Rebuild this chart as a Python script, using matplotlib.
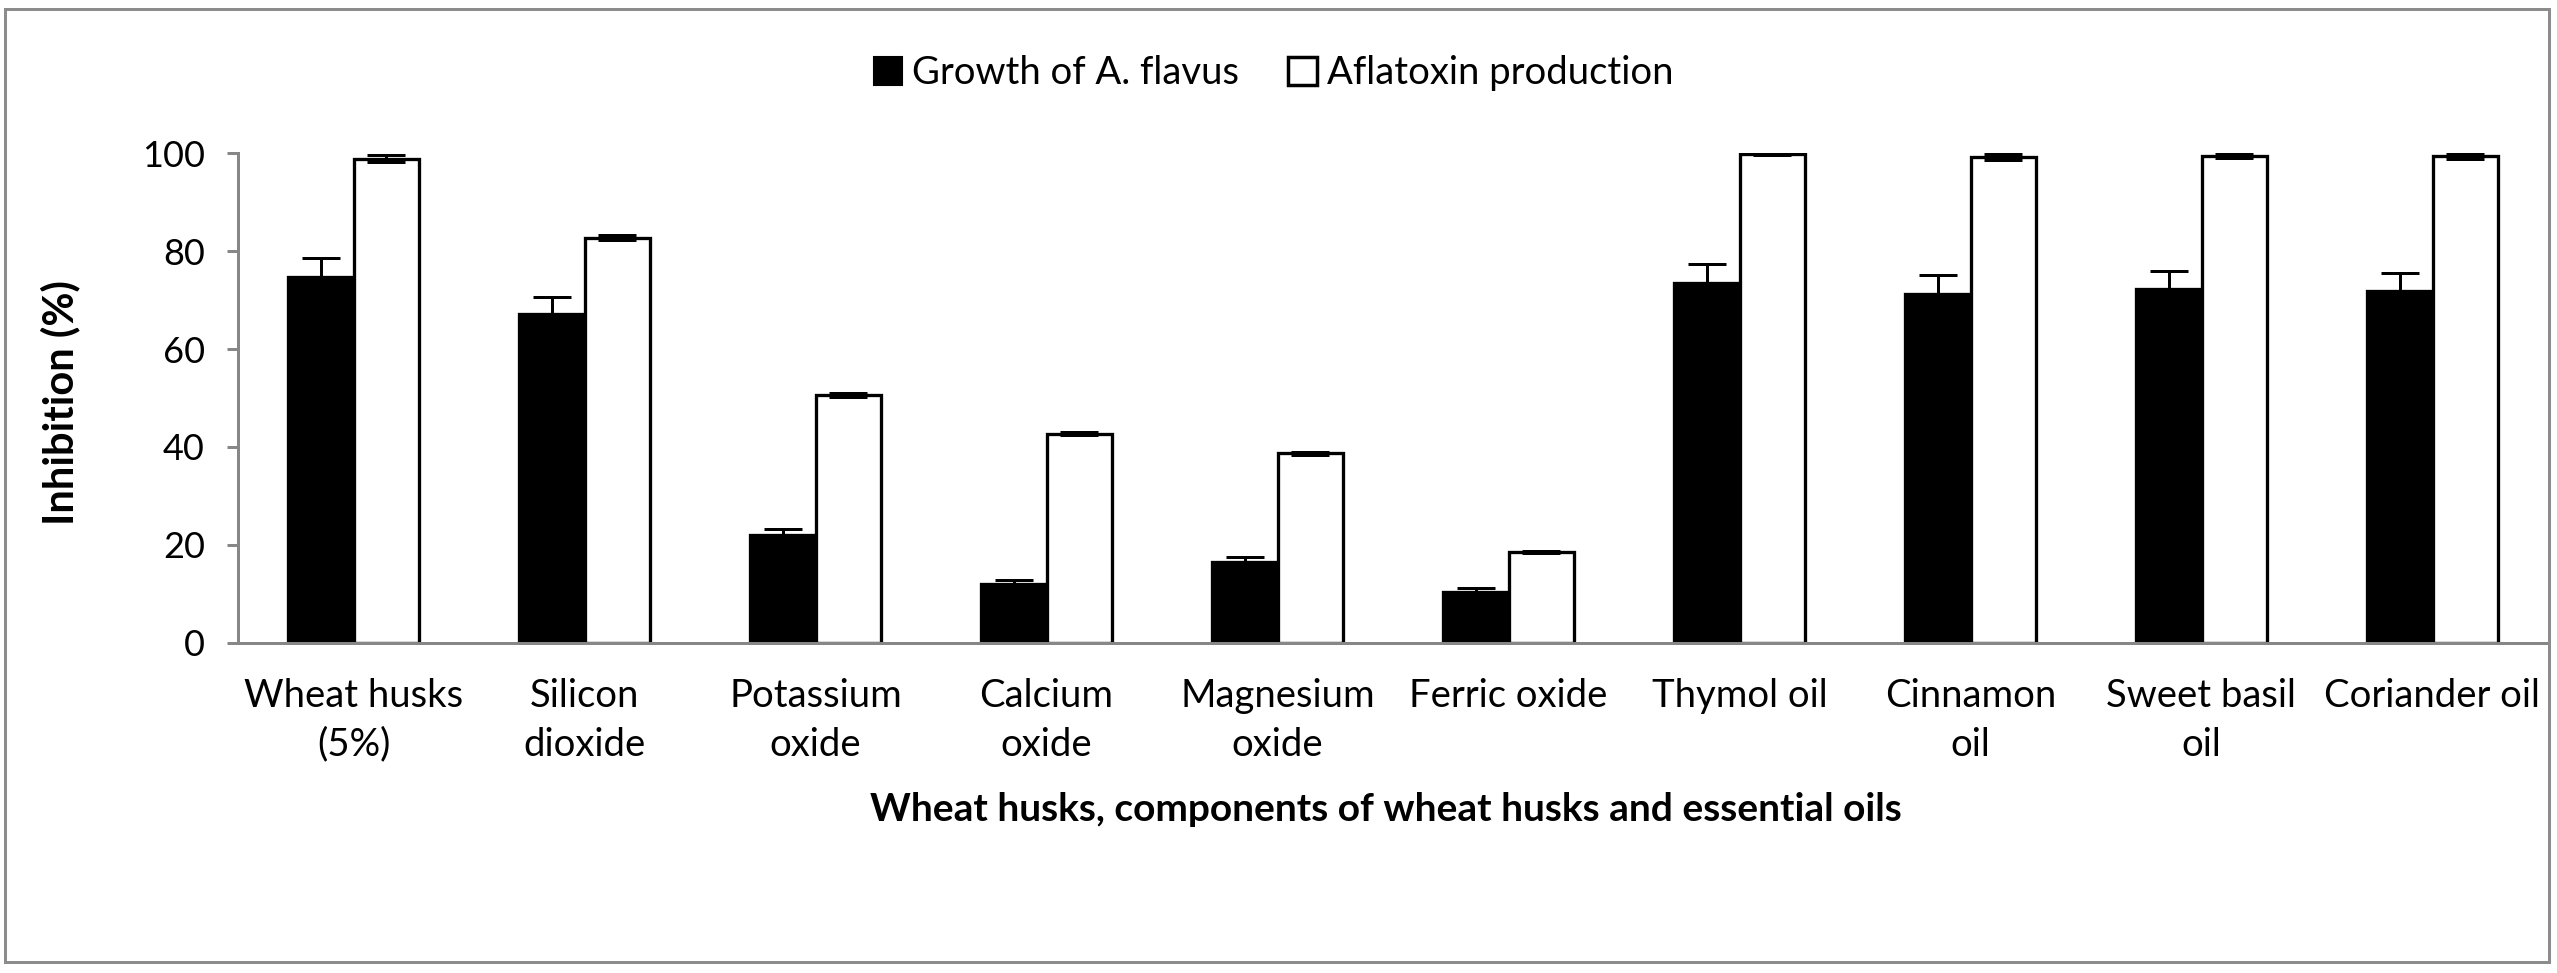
import matplotlib
matplotlib.use("Agg")
import matplotlib.pyplot as plt
import numpy as np
from matplotlib.patches import Patch, Rectangle

plt.rcParams['font.family'] = ['Lato', 'DejaVu Sans']

# data
categories = ["Wheat husks\n(5%)", "Silicon\ndioxide", "Potassium\noxide", "Calcium\noxide",
              "Magnesium\noxide", "Ferric oxide", "Thymol oil", "Cinnamon\noil",
              "Sweet basil\noil", "Coriander oil"]
growth = [74.7, 67.2, 22.0, 12.0, 16.6, 10.5, 73.5, 71.3, 72.2, 71.9]
growth_err = [3.9, 3.4, 1.3, 0.8, 1.0, 0.8, 3.8, 3.9, 3.8, 3.7]
aflatoxin = [98.8, 82.7, 50.6, 42.7, 38.7, 18.6, 99.8, 99.2, 99.3, 99.3]
aflatoxin_err = [0.7, 0.5, 0.4, 0.3, 0.3, 0.2, 0.3, 0.6, 0.4, 0.6]
series_names = ["Growth of A. flavus", "Aflatoxin production"]

W, H = 2557, 973
fig = plt.figure(figsize=(W / 100, H / 100), dpi=100)
ax = fig.add_axes([238 / W, (H - 643) / H, 2310 / W, 490 / H])

grey = '#878787'
x = np.arange(len(categories))
bw = 0.282
lw_px = 0.72  # points per pixel at 100 dpi

ax.bar(x - bw / 2, growth, bw, color='black', edgecolor='black', linewidth=2.3 * lw_px, zorder=2)
ax.bar(x + bw / 2, aflatoxin, bw, color='white', edgecolor='black', linewidth=3.3 * lw_px, zorder=2)

ekw = dict(fmt='none', ecolor='black', elinewidth=3 * lw_px, capsize=19 * lw_px,
           capthick=3 * lw_px, zorder=3)
ax.errorbar(x - bw / 2, growth, yerr=[np.zeros(len(growth)), growth_err], **ekw)
ax.errorbar(x + bw / 2, aflatoxin, yerr=aflatoxin_err, **ekw)

ax.set_xlim(-0.5, len(categories) - 0.5)
ax.set_ylim(0, 100)
ax.set_yticks([0, 20, 40, 60, 80, 100])
ax.set_xticks(x)
ax.set_xticklabels(categories, fontsize=27.5, linespacing=1.45)
ax.tick_params(axis='x', length=0, pad=25)
ax.tick_params(axis='y', direction='out', length=11 * lw_px, width=3 * lw_px, color=grey,
               labelsize=26, pad=16)

for s in ['top', 'right']:
    ax.spines[s].set_visible(False)
for s in ['left', 'bottom']:
    ax.spines[s].set_color(grey)
    ax.spines[s].set_linewidth(3 * lw_px)
ax.spines['left'].set_zorder(1)

ax.set_xlabel("Wheat husks, components of wheat husks and essential oils",
              fontsize=28, fontweight='bold', va='center')
ax.xaxis.set_label_coords(0.497, -0.34)
ax.set_ylabel("Inhibition (%)", fontsize=30, fontweight='bold', va='center')
ax.yaxis.set_label_coords(-0.077, 0.49)

handles = [Patch(facecolor='black', edgecolor='black', linewidth=1.5),
           Patch(facecolor='white', edgecolor='black', linewidth=2.5)]
fig.legend(handles, series_names, loc='center', bbox_to_anchor=(0.498, 1 - 73 / H),
           ncol=2, frameon=False, fontsize=27.5, handlelength=0.75, handleheight=0.75,
           handletextpad=0.25, columnspacing=1.3)

fig.patches.append(Rectangle((5 / W, (H - 962) / H), 2544 / W, 953 / H, transform=fig.transFigure,
                             fill=False, edgecolor='#8c8c8c', linewidth=3 * lw_px))

fig.savefig('out.png', dpi=100)
